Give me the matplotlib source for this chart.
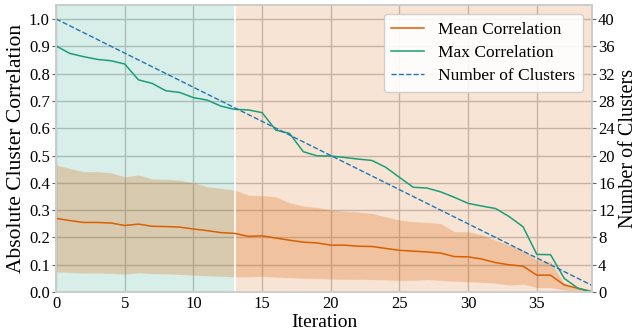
import numpy as np
import matplotlib
matplotlib.use('Agg')
import matplotlib.pyplot as plt

iterations = list(range(40))
n_clusters = [40 - i for i in iterations]

mean_corr = [0.270, 0.262, 0.255, 0.255, 0.253, 0.244, 0.249, 0.241, 0.240, 0.238,
             0.231, 0.225, 0.218, 0.215, 0.204, 0.206, 0.198, 0.190, 0.183, 0.180,
             0.172, 0.172, 0.168, 0.167, 0.160, 0.153, 0.150, 0.147, 0.143, 0.130,
             0.129, 0.121, 0.108, 0.100, 0.095, 0.062, 0.062, 0.026, 0.014, 0.002]
max_corr = [0.901, 0.874, 0.862, 0.852, 0.847, 0.835, 0.777, 0.764, 0.737, 0.731,
            0.712, 0.703, 0.681, 0.669, 0.667, 0.657, 0.593, 0.581, 0.514, 0.499,
            0.498, 0.493, 0.487, 0.482, 0.457, 0.420, 0.384, 0.381, 0.367, 0.347,
            0.325, 0.315, 0.306, 0.276, 0.239, 0.138, 0.137, 0.050, 0.014, 0.001]
band_upper = [0.465, 0.453, 0.441, 0.441, 0.437, 0.422, 0.429, 0.414, 0.413, 0.410,
              0.400, 0.386, 0.380, 0.374, 0.355, 0.353, 0.349, 0.327, 0.315, 0.310,
              0.301, 0.296, 0.293, 0.288, 0.276, 0.264, 0.258, 0.255, 0.251, 0.221,
              0.221, 0.209, 0.190, 0.172, 0.154, 0.117, 0.111, 0.032, 0.014, 0.002]
band_lower = [0.074, 0.072, 0.070, 0.070, 0.069, 0.066, 0.071, 0.068, 0.067, 0.065,
              0.062, 0.060, 0.058, 0.056, 0.056, 0.058, 0.055, 0.053, 0.051, 0.050,
              0.048, 0.047, 0.047, 0.046, 0.045, 0.043, 0.043, 0.046, 0.043, 0.040,
              0.038, 0.036, 0.033, 0.026, 0.029, 0.017, 0.017, 0.008, 0.002, 0.000]

phase_split = 13

plt.rcParams['font.family'] = ['Liberation Serif', 'DejaVu Serif']

ORANGE = '#d95f02'
GREEN = '#1b9e77'
BLUE = '#1f77b4'

fig = plt.figure(figsize=(6.37, 3.35), dpi=100)
ax = fig.add_axes([0.088, 0.128, 0.841, 0.857])
ax.set_axisbelow(True)

x = np.array(iterations)

ax.axvspan(0, phase_split, color=GREEN, alpha=0.17, lw=0)
ax.axvspan(phase_split, x[-1], color=ORANGE, alpha=0.17, lw=0)
ax.axvline(phase_split, color='white', lw=1.2, zorder=1.5)

ax.fill_between(x, band_lower, band_upper, color=ORANGE, alpha=0.25, lw=0)
l1, = ax.plot(x, mean_corr, color=ORANGE, lw=1.1, label='Mean Correlation')
l2, = ax.plot(x, max_corr, color=GREEN, lw=1.1, label='Max Correlation')

ax.set_xlim(0, 39)
ax.set_ylim(0, 1.051)
ax.set_xticks(range(0, 40, 5))
ax.set_yticks(np.arange(0, 1.01, 0.1))
ax.set_yticklabels([f'{v:.1f}' for v in np.arange(0, 1.01, 0.1)])
ax.grid(True, color='#c4c4c4', lw=1)
ax.set_xlabel('Iteration', fontsize=14, labelpad=1)
ax.set_ylabel('Absolute Cluster Correlation', fontsize=15.5, labelpad=2)
ax.tick_params(axis='x', length=0, labelsize=12, pad=3)
ax.tick_params(axis='y', length=3, color='#666666', labelsize=12, pad=1.5)

ax2 = ax.twinx()
l3, = ax2.plot(x, n_clusters, color=BLUE, lw=1, ls='--', label='Number of Clusters')
ax2.set_ylim(0, 42.04)
ax2.set_yticks(range(0, 41, 4))
ax2.grid(False)
ax2.set_ylabel('Number of Clusters', fontsize=14.5, labelpad=3)
ax2.tick_params(axis='y', length=3, color='#666666', labelsize=12, pad=1.5)

for a in (ax, ax2):
    for s in a.spines.values():
        s.set_color('#cccccc')
        s.set_linewidth(1.2)

leg = ax2.legend(handles=[l1, l2, l3], loc='upper right', fontsize=12.5,
                 frameon=True, fancybox=True, framealpha=0.9,
                 edgecolor='#cccccc', borderpad=0.45, handlelength=1.9,
                 labelspacing=0.4, borderaxespad=0.5)

fig.savefig('out.png', dpi=100)
